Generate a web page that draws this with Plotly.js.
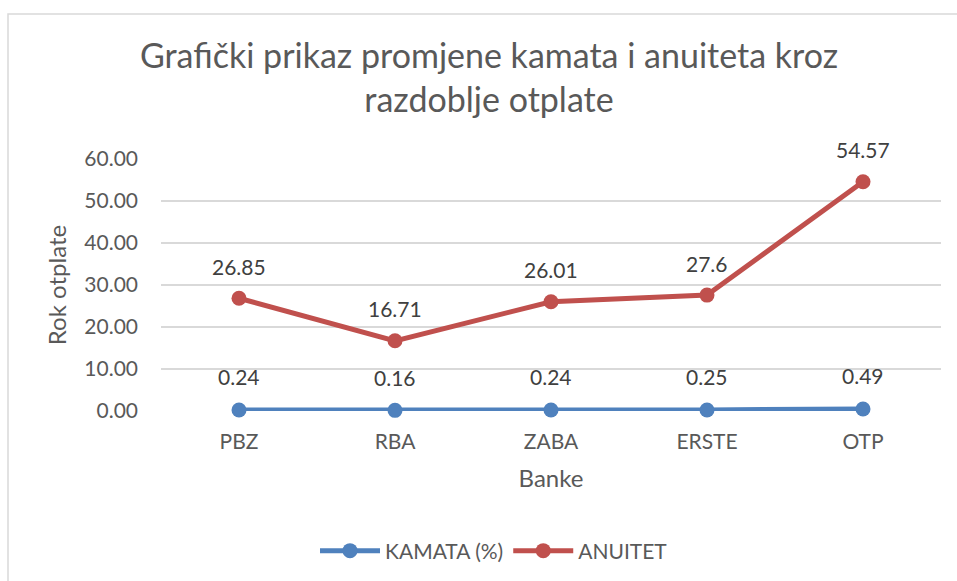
<!DOCTYPE html>
<html>
<head>
<meta charset="utf-8">
<script src="https://cdn.plot.ly/plotly-3.0.1.min.js"></script>
<style>html,body{margin:0;padding:0;background:#fff;}#chart{width:957px;height:581px;}</style>
</head>
<body>
<div id="chart"></div>
<script>
const banks = ["PBZ", "RBA", "ZABA", "ERSTE", "OTP"];
const kamata = [0.24, 0.16, 0.24, 0.25, 0.49];
const anuitet = [26.85, 16.71, 26.01, 27.6, 54.57];
const kamataLabels = ["0.24", "0.16", "0.24", "0.25", "0.49"];
const anuitetLabels = ["26.85", "16.71", "26.01", "27.6", "54.57"];
const yTicks = [0, 10, 20, 30, 40, 50, 60];
const yTickText = ["0.00", "10.00", "20.00", "30.00", "40.00", "50.00", "60.00"];

const FONT = "Lato, 'Open Sans', sans-serif";
const LABEL_FONT = {family: FONT, size: 21, color: "#404040"};

const traces = [
  {
    x: banks, y: kamata, name: "KAMATA (%)", type: "scatter", mode: "lines+markers",
    line: {color: "#4F81BD", width: 5},
    marker: {color: "#4F81BD", size: 15},
    cliponaxis: false, hoverinfo: "none"
  },
  {
    x: banks, y: anuitet, name: "ANUITET", type: "scatter", mode: "lines+markers",
    line: {color: "#C0504D", width: 5},
    marker: {color: "#C0504D", size: 15},
    cliponaxis: false, hoverinfo: "none"
  }
];

const annotations = [];
banks.forEach((b, i) => {
  annotations.push({x: b, y: kamata[i], xref: "x", yref: "y", text: kamataLabels[i],
    showarrow: false, yshift: 33, font: LABEL_FONT});
  annotations.push({x: b, y: anuitet[i], xref: "x", yref: "y", text: anuitetLabels[i],
    showarrow: false, yshift: 32, font: LABEL_FONT});
});

const layout = {
  width: 957, height: 581,
  margin: {l: 161, r: 16, t: 159, b: 170, autoexpand: false},
  paper_bgcolor: "#fff", plot_bgcolor: "#fff",
  font: {family: FONT, color: "#595959"},
  title: {
    text: "Grafički prikaz promjene kamata i anuiteta kroz<br>razdoblje otplate",
    font: {family: FONT, size: 34, color: "#595959"},
    x: 489/957, xref: "container", xanchor: "center",
    y: 1 - 68/581, yref: "container", yanchor: "middle"
  },
  xaxis: {
    type: "category", range: [-0.5, 4.5], automargin: false,
    showgrid: false, zeroline: false, showline: false, ticks: "",
    tickfont: {family: FONT, size: 21, color: "#595959"},
    ticklabelstandoff: 16,
    title: {text: "Banke", font: {family: FONT, size: 24, color: "#595959"}, standoff: 18}
  },
  yaxis: {
    range: [0, 60], tickvals: yTicks, ticktext: yTickText, automargin: false,
    showgrid: true, gridcolor: "#D9D9D9", gridwidth: 1.5, zeroline: false, showline: false, ticks: "",
    tickfont: {family: FONT, size: 21, color: "#595959"},
    ticklabelstandoff: 22,
    title: {text: "Rok otplate", font: {family: FONT, size: 24, color: "#595959"}, standoff: 10}
  },
  annotations: annotations,
  showlegend: true,
  legend: {
    orientation: "h", x: (494-161)/780, xanchor: "center", y: (411-551)/252, yanchor: "middle",
    font: {family: FONT, size: 21, color: "#595959"}, itemwidth: 60, traceorder: "normal"
  },
  shapes: [{
    type: "rect", xref: "paper", yref: "paper",
    x0: (8-161)/780, x1: (990-161)/780, y0: (411-620)/252, y1: (411-14)/252,
    line: {color: "#D9D9D9", width: 1.5}, fillcolor: "rgba(0,0,0,0)", layer: "below"
  }]
};

Plotly.newPlot("chart", traces, layout, {displayModeBar: false, staticPlot: true});
</script>
</body>
</html>
